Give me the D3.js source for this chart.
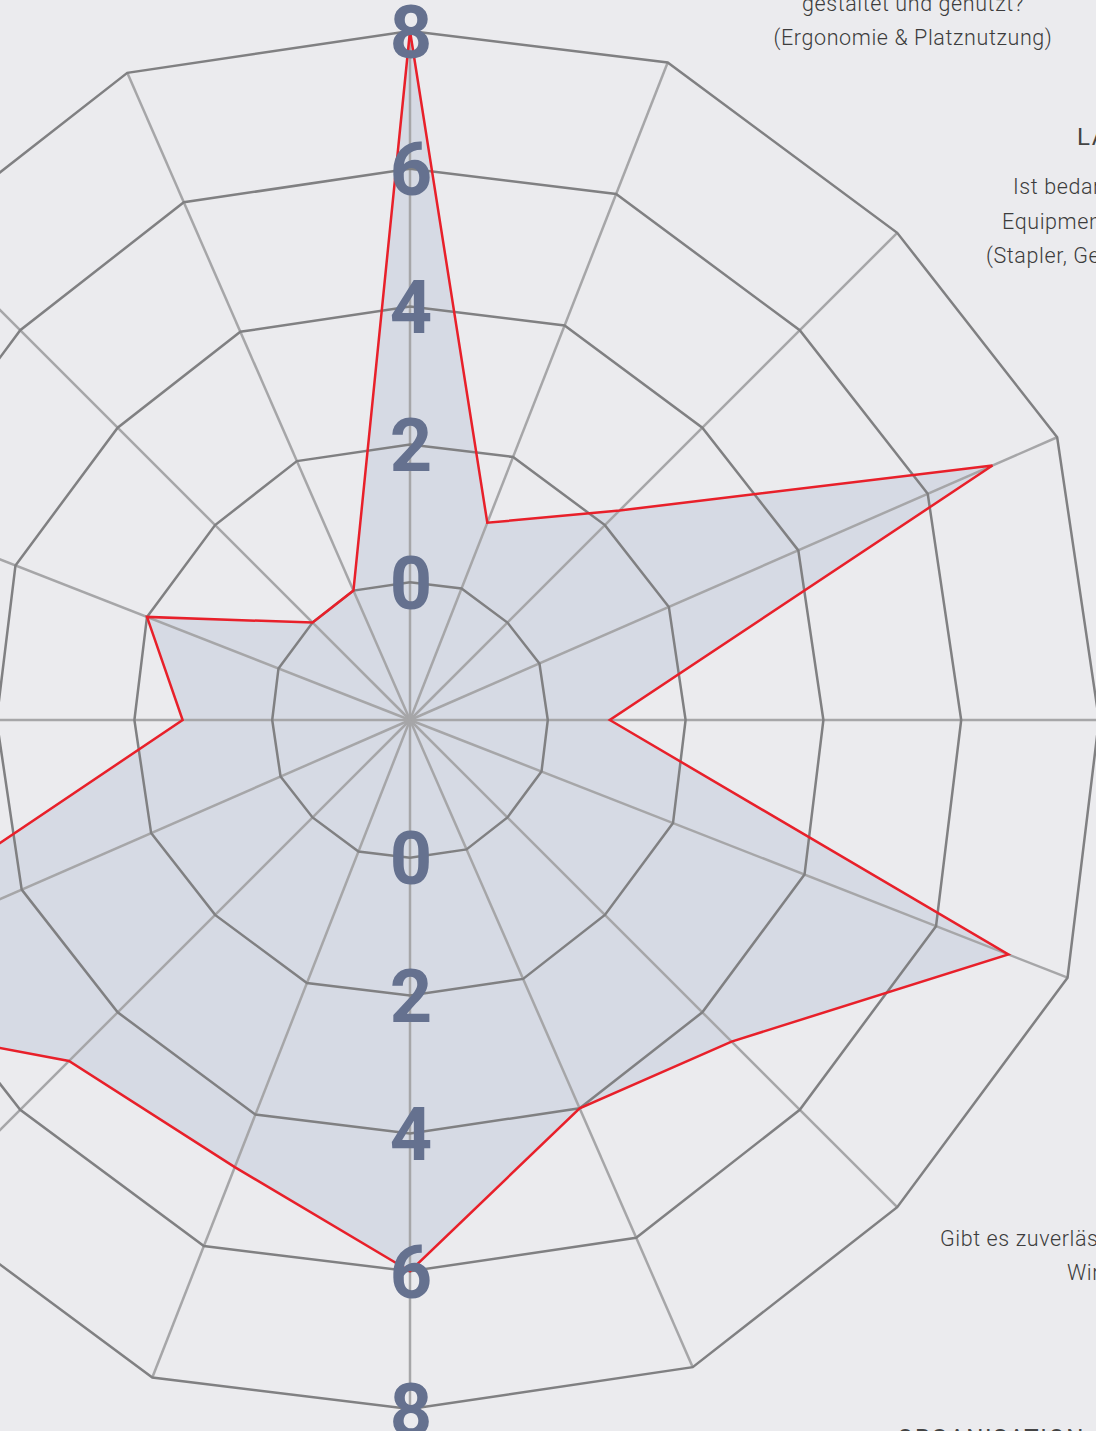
<!DOCTYPE html>
<html>
<head>
<meta charset="utf-8">
<script src="https://cdn.jsdelivr.net/npm/d3@7"></script>
<style>
  html, body { margin: 0; padding: 0; background: #ebebee; overflow: hidden; }
  .tick-label { font-family: Roboto, "Noto Sans", sans-serif; font-weight: 700; fill: #65718f; }
  .axis-text { font-family: Roboto, "Noto Sans", sans-serif; font-weight: 300; fill: #3c3c3c; letter-spacing: 0.6px; }
  .axis-title { font-family: Roboto, "Noto Sans", sans-serif; font-weight: 400; fill: #444; letter-spacing: 1.5px; }
</style>
</head>
<body>
<div id="radar"></div>
<script>
// 16 spokes, clockwise from the top
var axes = ["A1", "A2", "A3", "A4", "A5", "A6", "A7", "A8",
            "A9", "A10", "A11", "A12", "A13", "A14", "A15", "A16"];
// values (same order as axes)
var values = [8, 1, 2.3, 7, 0.9, 7.1, 4.6, 4, 6, 4.8, 5, 8, 1.3, 2, 0, 0];
var ticks = [0, 2, 4, 6, 8];

// axis label fragments visible inside the crop
var labelTopRight = ["gestaltet und genutzt?", "(Ergonomie & Platznutzung)"];
var labelRightTitle = "LAGERTECHNIK";
var labelRight = ["Ist bedarfsgerechtes", "Equipment vorhanden?", "(Stapler, Geräte)"];
var labelLowerRight = ["Gibt es zuverlässige", "Wird"];
var labelBottomTitle = "ORGANISATION";

var width = 1096, height = 1431;
var cx = 410, cy = 720;

var svg = d3.select("#radar").append("svg")
    .attr("width", width)
    .attr("height", height);

svg.append("rect").attr("width", width).attr("height", height).attr("fill", "#ebebee");

var g = svg.append("g").attr("transform", "translate(" + cx + "," + cy + ")");

// radius scale: the centre sits at -2, so "0" is the first ring
var r = d3.scaleLinear().domain([-2, 8]).range([0, 689]);
var angle = d3.scalePoint().domain(axes).range([0, 2 * Math.PI * (axes.length - 1) / axes.length]);

// the in-between spokes of the original reach a little further out
// and sit about a degree anticlockwise
function stretch(a) {
    return axes.indexOf(a) % 2 ? 1.025 : 1;
}
function turn(a) {
    return axes.indexOf(a) % 2 ? -1.1 * Math.PI / 180 : 0;
}

function pt(a, v) {
    var t = angle(a) + turn(a), d = r(v) * stretch(a);
    return [Math.sin(t) * d, -Math.cos(t) * d];
}

var line = d3.line();
var dataPts = axes.map(function(a, i) { return pt(a, values[i]); });

// data area (drawn first so grid sits on top)
g.append("path")
    .attr("d", line(dataPts) + "Z")
    .attr("fill", "#d6dae4")
    .attr("stroke", "none");

// spokes
g.selectAll(".spoke")
    .data(axes)
    .enter().append("line")
    .attr("class", "spoke")
    .attr("x1", 0).attr("y1", 0)
    .attr("x2", function(a) { return pt(a, 8)[0]; })
    .attr("y2", function(a) { return pt(a, 8)[1]; })
    .attr("stroke", "#a6a6a8")
    .attr("stroke-width", 2.5);

// rings
g.selectAll(".ring")
    .data(ticks)
    .enter().append("path")
    .attr("class", "ring")
    .attr("d", function(v) {
        return line(axes.map(function(a) { return pt(a, v); })) + "Z";
    })
    .attr("fill", "none")
    .attr("stroke", "#808082")
    .attr("stroke-width", 2.5);

// red outline of the data
g.append("path")
    .attr("d", line(dataPts) + "Z")
    .attr("fill", "none")
    .attr("stroke", "#e8202a")
    .attr("stroke-width", 2.5)
    .attr("stroke-linejoin", "miter");

// tick labels, up and down the vertical axis
[-1, 1].forEach(function(dir) {
    g.selectAll(".tick" + dir)
        .data(ticks)
        .enter().append("text")
        .attr("class", "tick-label")
        .attr("x", 1)
        .attr("y", function(v) { return dir * r(v); })
        .attr("dy", "0.36em")
        .attr("text-anchor", "middle")
        .style("font-size", "74px")
        .text(function(v) { return v; });
});

// axis label fragments
function block(lines, x, y, anchor, step) {
    svg.append("g").selectAll("text")
        .data(lines)
        .enter().append("text")
        .attr("class", "axis-text")
        .attr("x", x)
        .attr("y", function(d, i) { return y + i * step; })
        .attr("text-anchor", anchor)
        .style("font-size", "21.5px")
        .text(function(d) { return d; });
}

block(labelTopRight, 913, 11, "middle", 34);

svg.append("text")
    .attr("class", "axis-title")
    .attr("x", 1077).attr("y", 145)
    .style("font-size", "24px")
    .text(labelRightTitle);
block(labelRight, 1013, 194, "start", 34.5);
svg.selectAll(".axis-text").filter(function(d) { return d === labelRight[1]; }).attr("x", 1002);
svg.selectAll(".axis-text").filter(function(d) { return d === labelRight[2]; }).attr("x", 986);

block(labelLowerRight, 940, 1246, "start", 34);
svg.selectAll(".axis-text").filter(function(d) { return d === labelLowerRight[1]; }).attr("x", 1067);

svg.append("text")
    .attr("class", "axis-title")
    .attr("x", 897).attr("y", 1446)
    .style("font-size", "24px")
    .text(labelBottomTitle);
</script>
</body>
</html>
